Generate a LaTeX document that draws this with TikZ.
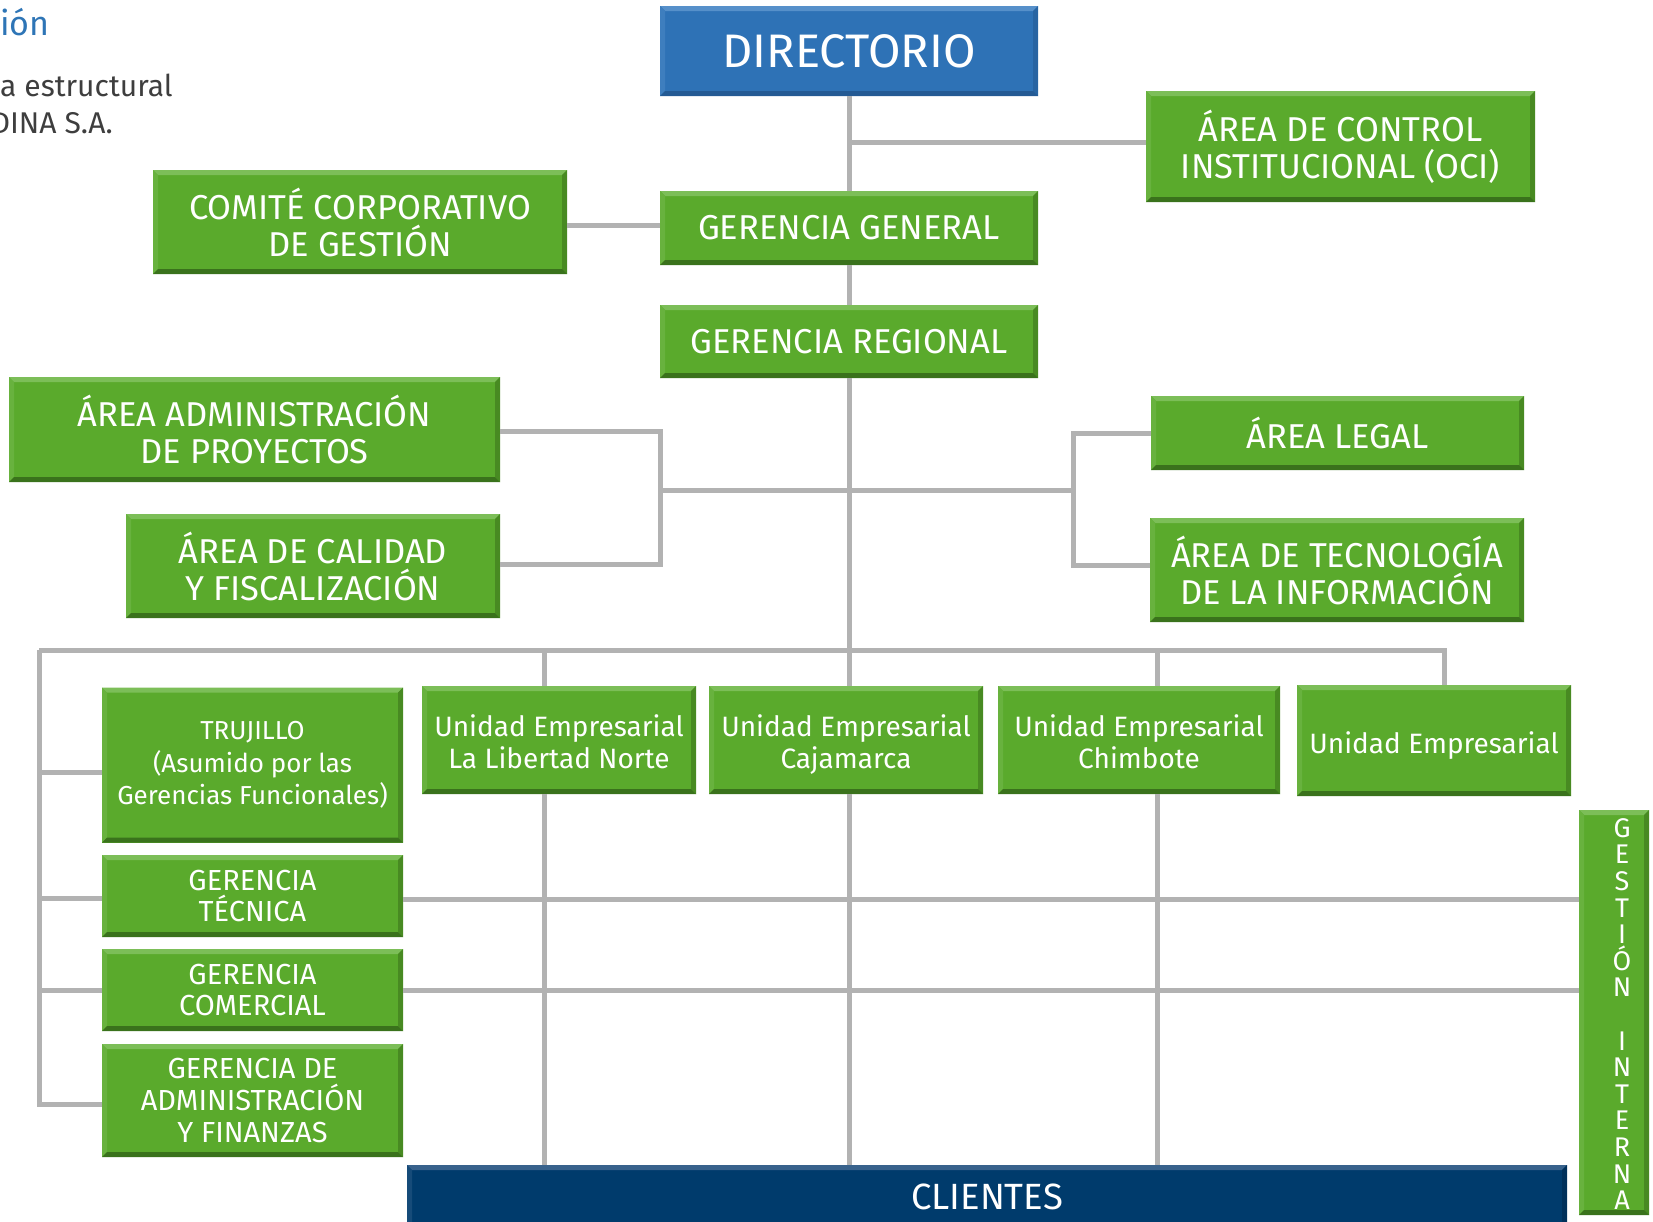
\documentclass[tikz,border=0pt]{standalone}
\usepackage{fontspec}
\setmainfont{Fira Sans}

\definecolor{boxgreen}{RGB}{90,170,44}
\definecolor{boxgreenhi}{RGB}{124,190,88}
\definecolor{boxgreenlo}{RGB}{58,114,28}
\definecolor{boxgreenside}{RGB}{72,138,34}
\definecolor{boxblue}{RGB}{46,114,182}
\definecolor{boxbluehi}{RGB}{86,144,202}
\definecolor{boxbluelo}{RGB}{36,90,148}
\definecolor{boxblueside}{RGB}{40,100,162}
\definecolor{boxnavy}{RGB}{0,59,108}
\definecolor{boxnavyhi}{RGB}{56,98,140}
\definecolor{boxnavylo}{RGB}{0,40,78}
\definecolor{boxnavyside}{RGB}{0,48,90}
\definecolor{linegray}{RGB}{178,178,178}
\definecolor{titleblue}{RGB}{46,117,182}
\definecolor{textgray}{RGB}{62,62,62}

\newcommand\dirfont{\fontsize{47}{50}\selectfont}
\newcommand\boxfont{\fontsize{34.5}{37}\selectfont}
\newcommand\unitfont{\fontsize{28}{31.6}\selectfont}
\newcommand\gerfont{\fontsize{29}{31.6}\selectfont}
\newcommand\trufont{\fontsize{26}{32.5}\selectfont}
\newcommand\vertfont{\fontsize{27}{26.6}\selectfont}
\newcommand\headfont{\fontsize{30}{36}\selectfont}

\tikzset{
  bevel/.style n args={4}{fill=#1, path picture={
    \fill[#2] (path picture bounding box.north west) -- (path picture bounding box.north east)
      -- ([shift={(-5pt,-5pt)}]path picture bounding box.north east)
      -- ([shift={(5pt,-5pt)}]path picture bounding box.north west) -- cycle;
    \fill[#2!40!#1] (path picture bounding box.north west) -- (path picture bounding box.south west)
      -- ([shift={(5pt,5pt)}]path picture bounding box.south west)
      -- ([shift={(5pt,-5pt)}]path picture bounding box.north west) -- cycle;
    \fill[#4] (path picture bounding box.north east) -- (path picture bounding box.south east)
      -- ([shift={(-5pt,5pt)}]path picture bounding box.south east)
      -- ([shift={(-5pt,-5pt)}]path picture bounding box.north east) -- cycle;
    \fill[#3] (path picture bounding box.south west) -- (path picture bounding box.south east)
      -- ([shift={(-5pt,5pt)}]path picture bounding box.south east)
      -- ([shift={(5pt,5pt)}]path picture bounding box.south west) -- cycle;
  }},
  greenbox/.style={bevel={boxgreen}{boxgreenhi}{boxgreenlo}{boxgreenside},
    text=white, align=center, inner sep=0pt, font=\boxfont},
  unitbox/.style={greenbox, font=\unitfont, text height=56pt, text depth=0pt},
  gerbox/.style={greenbox, font=\gerfont},
  bluebox/.style={bevel={boxblue}{boxbluehi}{boxbluelo}{boxblueside},
    text=white, align=center, inner sep=0pt, font=\dirfont},
  navybox/.style={bevel={boxnavy}{boxnavyhi}{boxnavylo}{boxnavyside},
    text=white, align=center, inner sep=0pt, font=\fontsize{36.5}{40}\selectfont},
  conn/.style={draw=linegray, line width=5pt},
}

\begin{document}
\begin{tikzpicture}[x=1pt,y=-1pt]

  \useasboundingbox (0,0) rectangle (1653,1221);

  % heading, cut at the page edge
  \node[anchor=base west, inner sep=0pt, text=titleblue, font=\fontsize{34}{40}\selectfont]
    (ttl) at (0,35) {ión};
  \node[anchor=base west, inner sep=0pt, text=textgray, font=\headfont]
    (sub1) at (0,96) {a estructural};
  \node[anchor=base east, inner sep=0pt, text=textgray, font=\headfont]
    (sub2) at (113,133) {DINA S.A.};

  % top of the chart
  \node[bluebox, minimum width=378pt, minimum height=90pt] (dir) at (849,51) {DIRECTORIO};
  \node[greenbox, minimum width=389pt, minimum height=111pt] (oci) at (1340.5,146.5)
    {ÁREA DE CONTROL\\INSTITUCIONAL (OCI)};
  \node[greenbox, minimum width=414pt, minimum height=104pt] (com) at (360,222)
    {COMITÉ CORPORATIVO\\DE GESTIÓN};
  \node[greenbox, minimum width=378pt, minimum height=74pt] (gg) at (849,228) {GERENCIA GENERAL};
  \node[greenbox, minimum width=378pt, minimum height=73pt] (gr) at (849,341.5) {GERENCIA REGIONAL};

  \node[greenbox, minimum width=491pt, minimum height=105pt] (adm) at (254.5,429.5)
    {ÁREA ADMINISTRACIÓN\\DE PROYECTOS};
  \node[greenbox, minimum width=374pt, minimum height=104pt] (cal) at (313,566)
    {ÁREA DE CALIDAD\\Y FISCALIZACIÓN};
  \node[greenbox, minimum width=373pt, minimum height=74pt] (leg) at (1337.5,433) {ÁREA LEGAL};
  \node[greenbox, minimum width=374pt, minimum height=104pt] (tec) at (1337,570)
    {ÁREA DE TECNOLOGÍA\\DE LA INFORMACIÓN};

  % functional managements
  \node[gerbox, font=\trufont, minimum width=301pt, minimum height=155pt] (tru) at (252.5,765)
    {TRUJILLO\\(Asumido por las\\Gerencias Funcionales)};
  \node[gerbox, minimum width=301pt, minimum height=82pt] (gt) at (252.5,896) {GERENCIA\\TÉCNICA};
  \node[gerbox, minimum width=301pt, minimum height=82pt] (gc) at (252.5,990) {GERENCIA\\COMERCIAL};
  \node[gerbox, minimum width=301pt, minimum height=113pt] (gaf) at (252.5,1100.5)
    {GERENCIA DE\\ADMINISTRACIÓN\\Y FINANZAS};

  % business units
  \node[unitbox, minimum width=274pt, minimum height=108pt] (lln) at (559,740)
    {Unidad Empresarial\\La Libertad Norte};
  \node[unitbox, minimum width=274pt, minimum height=108pt] (caj) at (846,740)
    {Unidad Empresarial\\Cajamarca};
  \node[unitbox, minimum width=282pt, minimum height=108pt] (chi) at (1139,740)
    {Unidad Empresarial\\Chimbote};
  \node[unitbox, text height=25pt, minimum width=274pt, minimum height=111pt] (ue) at (1434,740.5)
    {Unidad Empresarial};

  \node[navybox, minimum width=1160pt, minimum height=63pt] (cli) at (987,1196.5) {CLIENTES};
  \node[greenbox, minimum width=70pt, minimum height=405pt] (gi) at (1614,1012.5) {};
  \node[text=white, align=center, inner sep=0pt, font=\vertfont] (gitxt) at (1622,1014)
    {G\\E\\S\\T\\I\\Ó\\N\\[26.6pt]I\\N\\T\\E\\R\\N\\A};

  % connectors
  \coordinate (brkL) at (660,490);
  \coordinate (brkR) at (1073,490);
  \coordinate (busW) at (39,650);
  \coordinate (c1) at (544,650);
  \coordinate (c2) at (849,650);
  \coordinate (c3) at (1157,650);
  \coordinate (c4) at (1444,650);

  \draw[conn] (dir.south) -- (gg.north);
  \draw[conn] (gg.south) -- (gr.north);
  \draw[conn] (gr.south) -- (gr.south |- caj.north);
  \draw[conn] ([yshift=4pt]oci.west) -- ([yshift=4pt]oci.west -| dir.south);
  \draw[conn] ([yshift=-3pt]com.east) -- ([yshift=-3pt]com.east -| gg.west);

  \draw[conn] ([yshift=-2pt]adm.east) -| (brkL) |- ([yshift=2pt]cal.east);
  \draw[conn] (brkL) -- (brkR);
  \draw[conn] (leg.west) -| (brkR) |- ([yshift=5pt]tec.west);

  \draw[conn] (busW) -- (c4) -- (c4 |- ue.north);
  \draw[conn] (c1) -- (c1 |- lln.north);
  \draw[conn] (c3) -- (c3 |- chi.north);
  \draw[conn] (c1 |- lln.south) -- (c1 |- cli.north);
  \draw[conn] (c2 |- caj.south) -- (c2 |- cli.north);
  \draw[conn] (c3 |- chi.south) -- (c3 |- cli.north);

  \draw[conn] (busW) |- ([yshift=-4pt]gaf.west);
  \draw[conn] ([yshift=-7pt]busW |- tru.west) -- ([yshift=-7pt]tru.west);
  \draw[conn] ([yshift=-2pt]busW |- gt.west) -- ([yshift=-2pt]gt.west);
  \draw[conn] (busW |- gc.west) -- (gc.west);
  \draw[conn] ([yshift=-3pt]gt.east) -- ([yshift=-3pt]gt.east -| gi.west);
  \draw[conn] (gc.east) -- (gc.east -| gi.west);

\end{tikzpicture}
\end{document}
